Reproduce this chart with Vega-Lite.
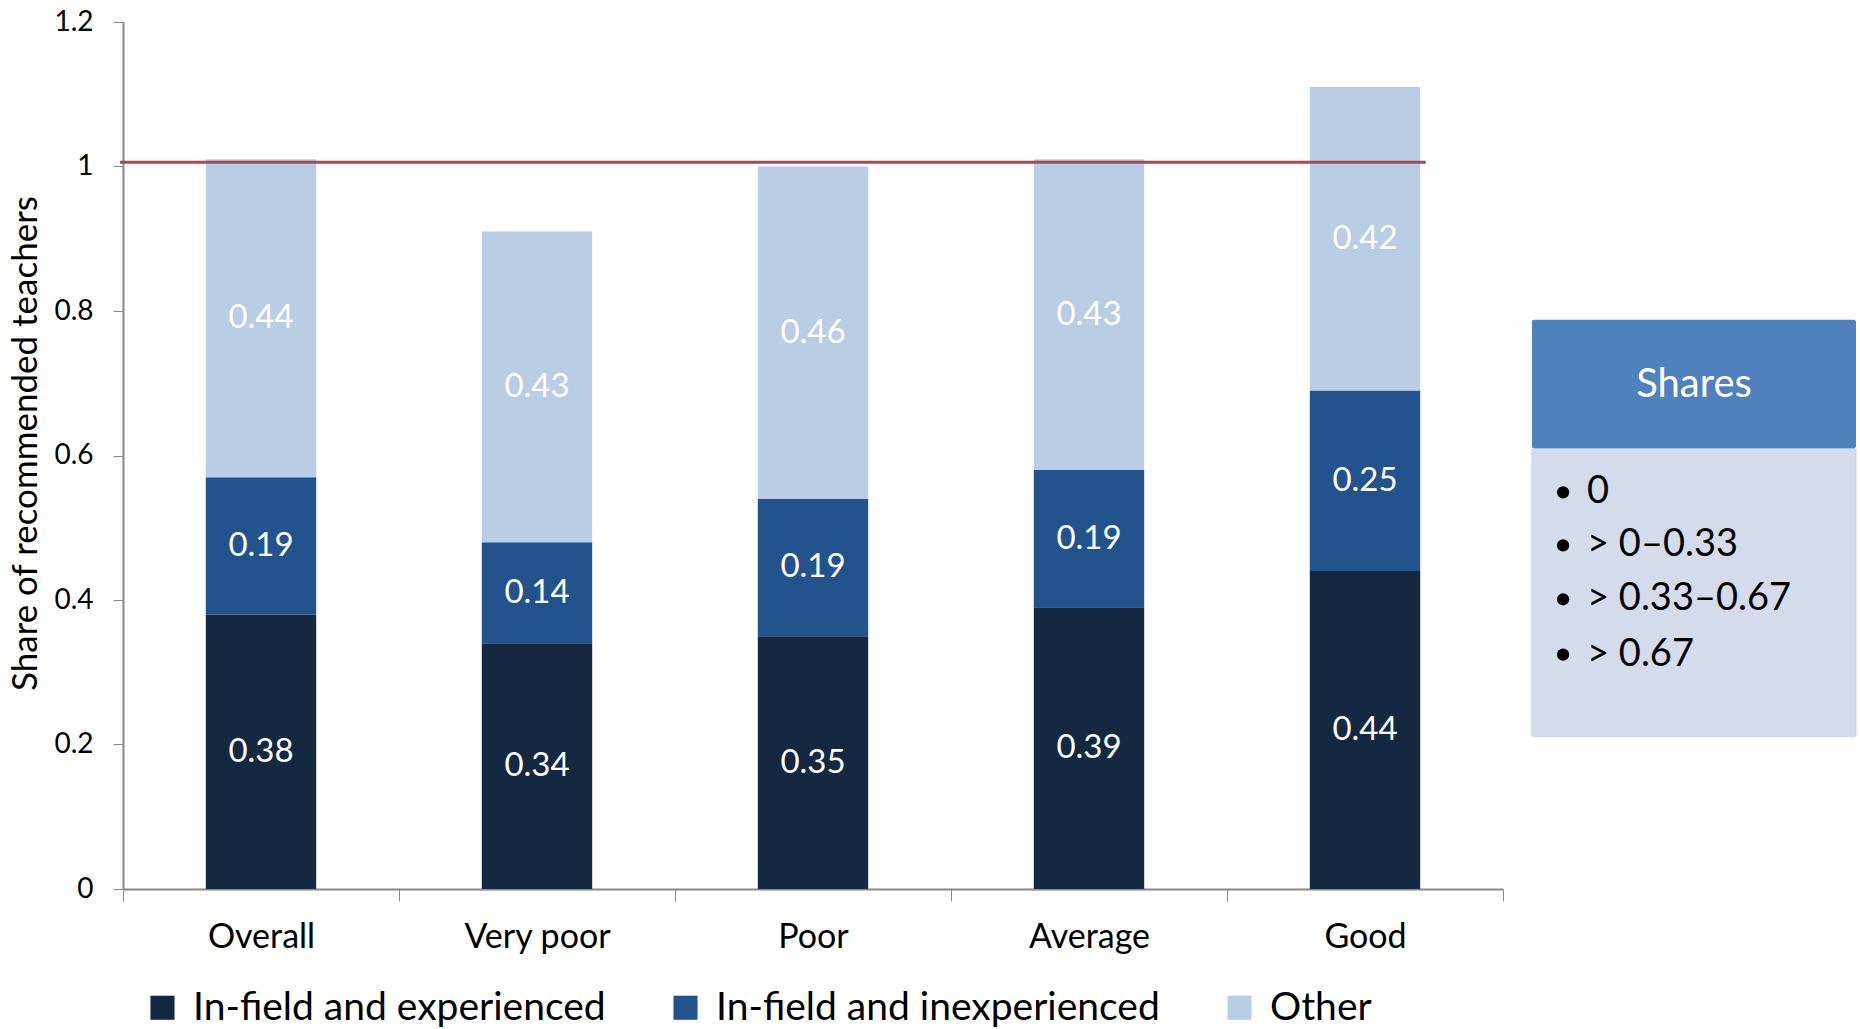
{
  "$schema": "https://vega.github.io/schema/vega-lite/v6.json",
  "background": "white",
  "padding": {"left": 8, "top": 8, "right": 0, "bottom": 0},
  "config": {
    "font": "Lato",
    "view": {"stroke": null},
    "concat": {"spacing": 27}
  },
  "hconcat": [
    {
      "width": 1380,
      "height": 867,
      "data": {
        "values": [
          {"cat": "Overall", "series": "In-field and experienced", "value": 0.38},
          {"cat": "Overall", "series": "In-field and inexperienced", "value": 0.19},
          {"cat": "Overall", "series": "Other", "value": 0.44},
          {"cat": "Very poor", "series": "In-field and experienced", "value": 0.34},
          {"cat": "Very poor", "series": "In-field and inexperienced", "value": 0.14},
          {"cat": "Very poor", "series": "Other", "value": 0.43},
          {"cat": "Poor", "series": "In-field and experienced", "value": 0.35},
          {"cat": "Poor", "series": "In-field and inexperienced", "value": 0.19},
          {"cat": "Poor", "series": "Other", "value": 0.46},
          {"cat": "Average", "series": "In-field and experienced", "value": 0.39},
          {"cat": "Average", "series": "In-field and inexperienced", "value": 0.19},
          {"cat": "Average", "series": "Other", "value": 0.43},
          {"cat": "Good", "series": "In-field and experienced", "value": 0.44},
          {"cat": "Good", "series": "In-field and inexperienced", "value": 0.25},
          {"cat": "Good", "series": "Other", "value": 0.42}
        ]
      },
      "layer": [
        {
          "mark": {"type": "bar", "width": {"band": 0.4}},
          "encoding": {
            "x": {
              "field": "cat", "type": "nominal", "sort": null,
              "scale": {"paddingInner": 0, "paddingOuter": 0},
              "axis": {
                "title": null, "labelAngle": 0, "labelFontSize": 34, "labelColor": "#000000",
                "labelPadding": 19, "domainColor": "#888888", "domainWidth": 2,
                "tickColor": "#888888", "tickSize": 12, "tickBand": "extent", "tickWidth": 1
              }
            },
            "y": {
              "field": "value", "type": "quantitative", "stack": "zero",
              "scale": {"domain": [0, 1.2]},
              "axis": {
                "title": "Share of recommended teachers", "titleFontSize": 35, "titleFontWeight": "normal",
                "titleColor": "#000000", "titlePadding": 10, "titleY": 421,
                "values": [0, 0.2, 0.4, 0.6, 0.8, 1, 1.2], "format": "~g",
                "labelFontSize": 28, "labelColor": "#000000", "labelPadding": 20,
                "grid": false, "domainColor": "#888888", "domainWidth": 2,
                "tickColor": "#888888", "tickSize": 10
              }
            },
            "color": {
              "field": "series", "type": "nominal",
              "scale": {
                "domain": ["In-field and experienced", "In-field and inexperienced", "Other"],
                "range": ["#142842", "#23538c", "#b9cde4"]
              },
              "legend": {
                "orient": "bottom", "direction": "horizontal", "title": null,
                "symbolType": "square", "symbolSize": 580, "symbolStrokeWidth": 0,
                "labelFontSize": 39, "labelColor": "#000000", "labelOffset": 11,
                "columnPadding": 60, "offset": 14, "padding": 20, "labelLimit": 700
              }
            },
            "order": {"field": "series", "sort": "ascending"}
          }
        },
        {
          "transform": [
            {"stack": "value", "groupby": ["cat"], "sort": [{"field": "series", "order": "ascending"}], "as": ["y0", "y1"]},
            {"calculate": "(datum.y0 + datum.y1) / 2", "as": "ymid"}
          ],
          "mark": {"type": "text", "color": "white", "fontSize": 33, "baseline": "middle", "align": "center"},
          "encoding": {
            "x": {"field": "cat", "type": "nominal", "sort": null, "axis": null},
            "y": {"field": "ymid", "type": "quantitative"},
            "text": {"field": "value", "type": "quantitative", "format": ".2f"}
          }
        },
        {
          "data": {"values": [{"level": 1.006, "from": -0.011, "to": 4.72}]},
          "mark": {"type": "rule", "color": "#b0444f", "strokeWidth": 3},
          "encoding": {
            "y": {"field": "level", "type": "quantitative"},
            "x": {"field": "from", "type": "quantitative", "scale": {"domain": [0, 5]}, "axis": null},
            "x2": {"field": "to"}
          }
        }
      ],
      "resolve": {"scale": {"x": "independent"}}
    },
    {
      "width": 324,
      "height": 867,
      "layer": [
        {
          "data": {"values": [
            {"part": "body", "x0": 0, "x1": 1, "y0": 0.2106, "y1": 0.610}
          ]},
          "mark": {"type": "rect", "cornerRadius": 2, "color": "#d4dcec", "stroke": "#c9d3e6", "strokeWidth": 1},
          "encoding": {
            "x": {"field": "x0", "type": "quantitative", "scale": {"domain": [0, 1]}, "axis": null},
            "x2": {"field": "x1"},
            "y": {"field": "y0", "type": "quantitative", "scale": {"domain": [0, 1.2]}, "axis": null},
            "y2": {"field": "y1"}
          }
        },
        {
          "data": {"values": [
            {"part": "header", "x0": 0, "x1": 1, "y0": 0.610, "y1": 0.788}
          ]},
          "mark": {"type": "rect", "cornerRadius": 2, "color": "#4f81bd"},
          "encoding": {
            "x": {"field": "x0", "type": "quantitative"},
            "x2": {"field": "x1"},
            "y": {"field": "y0", "type": "quantitative"},
            "y2": {"field": "y1"}
          }
        },
        {
          "data": {"values": [{"t": "Shares", "x": 0.5, "y": 0.697}]},
          "mark": {"type": "text", "color": "white", "fontSize": 40, "align": "center", "baseline": "middle"},
          "encoding": {
            "x": {"field": "x", "type": "quantitative"},
            "y": {"field": "y", "type": "quantitative"},
            "text": {"field": "t"}
          }
        },
        {
          "data": {"values": [
            {"t": "0", "bx": 0.096, "tx": 0.17, "y": 0.549},
            {"t": "> 0–0.33", "bx": 0.096, "tx": 0.17, "y": 0.4756},
            {"t": "> 0.33–0.67", "bx": 0.096, "tx": 0.17, "y": 0.401},
            {"t": "> 0.67", "bx": 0.096, "tx": 0.17, "y": 0.3244}
          ]},
          "layer": [
            {
              "mark": {"type": "point", "filled": true, "color": "black", "size": 150, "opacity": 1},
              "encoding": {
                "x": {"field": "bx", "type": "quantitative"},
                "y": {"field": "y", "type": "quantitative"}
              }
            },
            {
              "mark": {"type": "text", "color": "black", "fontSize": 38, "align": "left", "baseline": "middle"},
              "encoding": {
                "x": {"field": "tx", "type": "quantitative"},
                "y": {"field": "y", "type": "quantitative"},
                "text": {"field": "t"}
              }
            }
          ]
        }
      ]
    }
  ]
}
